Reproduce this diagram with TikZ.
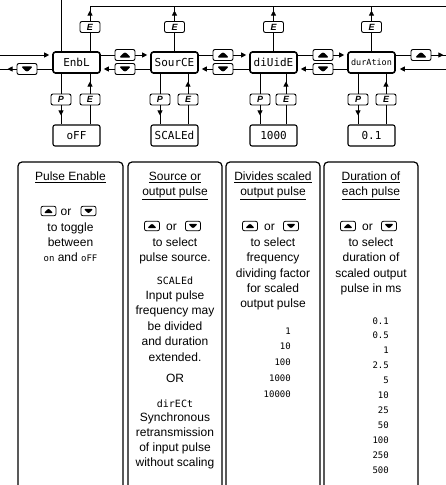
\documentclass[tikz,border=0pt]{standalone}
\usepackage{fontspec}
\setmainfont{Liberation Sans}
\newfontfamily\segfont{DejaVu Sans Mono}
\usetikzlibrary{arrows.meta,decorations.markings}
\tikzset{
  mainbox/.style={draw, line width=1.6pt, rounded corners=2.5pt, minimum width=47pt, minimum height=21pt, inner sep=0pt, font=\segfont\fontsize{11}{11}\selectfont},
  valbox/.style={draw, line width=1.1pt, rounded corners=2pt, minimum width=47pt, minimum height=21pt, inner sep=0pt, font=\segfont\fontsize{11}{11}\selectfont},
  btn/.style={draw, fill=white, line width=0.9pt, rounded corners=2pt, minimum width=20pt, minimum height=11pt, inner sep=0pt},
  lbtn/.style={btn, font=\bfseries\itshape\fontsize{9}{9}\selectfont},
  upbtn/.style={btn, path picture={\fill[black] ([xshift=-6pt,yshift=-2.6pt]path picture bounding box.center) -- ([xshift=6pt,yshift=-2.6pt]path picture bounding box.center) -- ([yshift=3.2pt]path picture bounding box.center) -- cycle;}},
  dnbtn/.style={btn, path picture={\fill[black] ([xshift=-6pt,yshift=2.6pt]path picture bounding box.center) -- ([xshift=6pt,yshift=2.6pt]path picture bounding box.center) -- ([yshift=-3.2pt]path picture bounding box.center) -- cycle;}},
  supbtn/.style={btn, line width=0.8pt, minimum width=15pt, minimum height=9.5pt, path picture={\fill[black] ([xshift=-4.8pt,yshift=-2.2pt]path picture bounding box.center) -- ([xshift=4.8pt,yshift=-2.2pt]path picture bounding box.center) -- ([yshift=2.8pt]path picture bounding box.center) -- cycle;}},
  sdnbtn/.style={btn, line width=0.8pt, minimum width=15pt, minimum height=9.5pt, path picture={\fill[black] ([xshift=-4.8pt,yshift=2.2pt]path picture bounding box.center) -- ([xshift=4.8pt,yshift=2.2pt]path picture bounding box.center) -- ([yshift=-2.8pt]path picture bounding box.center) -- cycle;}},
  conn/.style={line width=0.8pt},
  tipend/.style={-{Triangle[length=5pt,width=5pt]}},
  midarr/.style={postaction=decorate, decoration={markings, mark=at position #1 with {\arrow{Triangle[length=5pt,width=5pt]}}}},
  descbox/.style={draw, line width=1.2pt, rounded corners=4pt},
  txt/.style={anchor=base, inner sep=0pt, font=\fontsize{12}{14}\selectfont},
  segtxt/.style={anchor=base, inner sep=0pt, font=\segfont\fontsize{10}{10}\selectfont},
  numtxt/.style={anchor=base east, inner sep=0pt, font=\segfont\fontsize{9}{9}\selectfont},
}
\begin{document}
\begin{tikzpicture}[x=1pt,y=-1pt]
\useasboundingbox (0,0) rectangle (446,485);
\clip (0,0) rectangle (446,485);
% main boxes
\node[mainbox] (B1) at (76.5,62.5) {EnbL};
\node[mainbox] (B2) at (174.5,62.5) {SourCE};
\node[mainbox] (B3) at (273.5,62.5) {diUidE};
\node[mainbox, font=\segfont\fontsize{8.5}{8.5}\selectfont] (B4) at (371.5,62.5) {durAtion};
% value boxes
\node[valbox] (V1) at (76.5,135.5) {oFF};
\node[valbox] (V2) at (174.5,135.5) {SCALEd};
\node[valbox] (V3) at (273.5,135.5) {1000};
\node[valbox] (V4) at (371.5,135.5) {0.1};
% arrow buttons
\node[dnbtn] (DL) at (27,69) {};
\node[upbtn] (U1) at (125,55) {};
\node[dnbtn] (D1) at (125,69) {};
\node[upbtn] (U2) at (223,55) {};
\node[dnbtn] (D2) at (223,69) {};
\node[upbtn] (U3) at (323,55) {};
\node[dnbtn] (D3) at (323,69) {};
\node[upbtn] (U4) at (421,55) {};
% top E buttons
\node[lbtn] (TE1) at (90,27) {E};
\node[lbtn] (TE2) at (174.5,27) {E};
\node[lbtn] (TE3) at (273.5,27) {E};
\node[lbtn] (TE4) at (371.5,27) {E};
% bottom P / E buttons
\node[lbtn] (P1) at (61,99.5) {P};
\node[lbtn] (E1) at (90,99.5) {E};
\node[lbtn] (P2) at (160,99.5) {P};
\node[lbtn] (E2) at (188,99.5) {E};
\node[lbtn] (P3) at (260,99.5) {P};
\node[lbtn] (E3) at (286,99.5) {E};
\node[lbtn] (P4) at (358,99.5) {P};
\node[lbtn] (E4) at (386,99.5) {E};
% free ends
\coordinate (cin) at (61,0);
\coordinate (lin) at (0,55);
\coordinate (lout) at (0,69);
\coordinate (rout) at (446,55);
\coordinate (rin) at (446,69);
\coordinate (t1) at (90,6);
\coordinate (t2) at (174.5,6);
\coordinate (t3) at (273.5,6);
\coordinate (t4) at (371.5,6);
\coordinate (tend) at (446,6);
% top connectors
\draw[conn] (cin) -- (B1.north -| cin);
\draw[conn] (t1) -- (tend);
\foreach \i in {1,2,3,4}{
  \draw[conn] (B\i.north -| TE\i) -- (TE\i.south);
  \draw[conn, midarr=10.5pt] (TE\i.north) -- (t\i);
}
% left
\draw[conn, tipend, shorten >=3pt] (lin) -- (B1.west |- lin);
\draw[conn] (B1.west |- DL) -- (DL.east);
\draw[conn, midarr=9pt] (DL.west) -- (lout);
% between boxes
\draw[conn] (B1.east |- U1) -- (U1.west);
\draw[conn, tipend, shorten >=3pt] (U1.east) -- (B2.west |- U1);
\draw[conn] (B2.west |- D1) -- (D1.east);
\draw[conn, tipend, shorten >=3pt] (D1.west) -- (B1.east |- D1);
\draw[conn] (B2.east |- U2) -- (U2.west);
\draw[conn, tipend, shorten >=3pt] (U2.east) -- (B3.west |- U2);
\draw[conn] (B3.west |- D2) -- (D2.east);
\draw[conn, tipend, shorten >=3pt] (D2.west) -- (B2.east |- D2);
\draw[conn] (B3.east |- U3) -- (U3.west);
\draw[conn, tipend, shorten >=3pt] (U3.east) -- (B4.west |- U3);
\draw[conn] (B4.west |- D3) -- (D3.east);
\draw[conn, tipend, shorten >=3pt] (D3.west) -- (B3.east |- D3);
% right
\draw[conn] (B4.east |- U4) -- (U4.west);
\draw[conn, midarr=12pt] (U4.east) -- (rout);
\draw[conn, tipend, shorten >=4pt] (rin) -- (B4.east |- rin);
% bottom connectors
\foreach \i in {1,2,3,4}{
  \draw[conn] (B\i.south -| P\i) -- (P\i.north);
  \draw[conn, midarr=10pt] (P\i.south) -- (V\i.north -| P\i);
  \draw[conn] (V\i.north -| E\i) -- (E\i.south);
  \draw[conn, midarr=12pt] (E\i.north) -- (B\i.south -| E\i);
}
% description boxes
\draw[descbox] (18,162) rectangle (123,495);
\draw[descbox] (128,162) rectangle (222,495);
\draw[descbox] (226,162) rectangle (320,495);
\draw[descbox] (324,162) rectangle (418,495);
% box 1 text
\node[txt] (a1) at (70.5,180.5) {\underline{Pulse Enable}};
\node[supbtn] (ak1) at (48.5,211) {};
\node[txt, anchor=center] (ao) at (66,212) {or};
\node[sdnbtn] (ak2) at (88.5,211) {};
\node[txt] (a2) at (70.5,231.5) {to toggle};
\node[txt] (a3) at (70.5,246.5) {between};
\node[txt] (a4) at (70.5,261.5) {{\segfont\fontsize{9}{9}\selectfont on} and {\segfont\fontsize{9}{9}\selectfont oFF}};
% box 2 text
\node[txt] (b1) at (175,180.5) {\underline{Source or}};
\node[txt] (b2) at (175,195.5) {\underline{output pulse}};
\node[supbtn] (bk1) at (152,226) {};
\node[txt, anchor=center] (bo) at (171.5,227) {or};
\node[sdnbtn] (bk2) at (193,226) {};
\node[txt] (b3) at (175,246.5) {to select};
\node[txt] (b4) at (175,261.5) {pulse source.};
\node[segtxt] (b5) at (175,284) {SCALEd};
\node[txt] (b6) at (175,299.5) {Input pulse};
\node[txt] (b7) at (175,314.8) {frequency may};
\node[txt] (b8) at (175,330.2) {be divided};
\node[txt] (b9) at (175,345.6) {and duration};
\node[txt] (b10) at (175,361) {extended.};
\node[txt] (b11) at (175,382.5) {OR};
\node[segtxt] (b12) at (175,407) {dirECt};
\node[txt] (b13) at (175,421.5) {Synchronous};
\node[txt] (b14) at (175,436.5) {retransmission};
\node[txt] (b15) at (175,451.5) {of input pulse};
\node[txt] (b16) at (175,466.5) {without scaling};
% box 3 text
\node[txt] (c1) at (273,180.5) {\underline{Divides scaled}};
\node[txt] (c2) at (273,195.5) {\underline{output pulse}};
\node[supbtn] (ck1) at (250,226) {};
\node[txt, anchor=center] (co) at (269.5,227) {or};
\node[sdnbtn] (ck2) at (291,226) {};
\node[txt] (c3) at (273,246.5) {to select};
\node[txt] (c4) at (273,261.5) {frequency};
\node[txt] (c5) at (273,277) {dividing factor};
\node[txt] (c6) at (273,292.5) {for scaled};
\node[txt] (c7) at (273,307.5) {output pulse};
\foreach \v [count=\k] in {1,10,100,1000,10000}
  \node[numtxt] (cn\k) at (291,{318.5+15.7*\k}) {\v};
% box 4 text
\node[txt] (d1) at (371,180.5) {\underline{Duration of}};
\node[txt] (d2) at (371,195.5) {\underline{each pulse}};
\node[supbtn] (dk1) at (348,226) {};
\node[txt, anchor=center] (do) at (367.5,227) {or};
\node[sdnbtn] (dk2) at (389,226) {};
\node[txt] (d3) at (371,246.5) {to select};
\node[txt] (d4) at (371,261.5) {duration of};
\node[txt] (d5) at (371,277) {scaled output};
\node[txt] (d6) at (371,292.5) {pulse in ms};
\foreach \v [count=\k] in {0.1,0.5,1,2.5,5,10,25,50,100,250,500}
  \node[numtxt] (dn\k) at (389,{309.1+14.9*\k}) {\v};
\end{tikzpicture}
\end{document}
